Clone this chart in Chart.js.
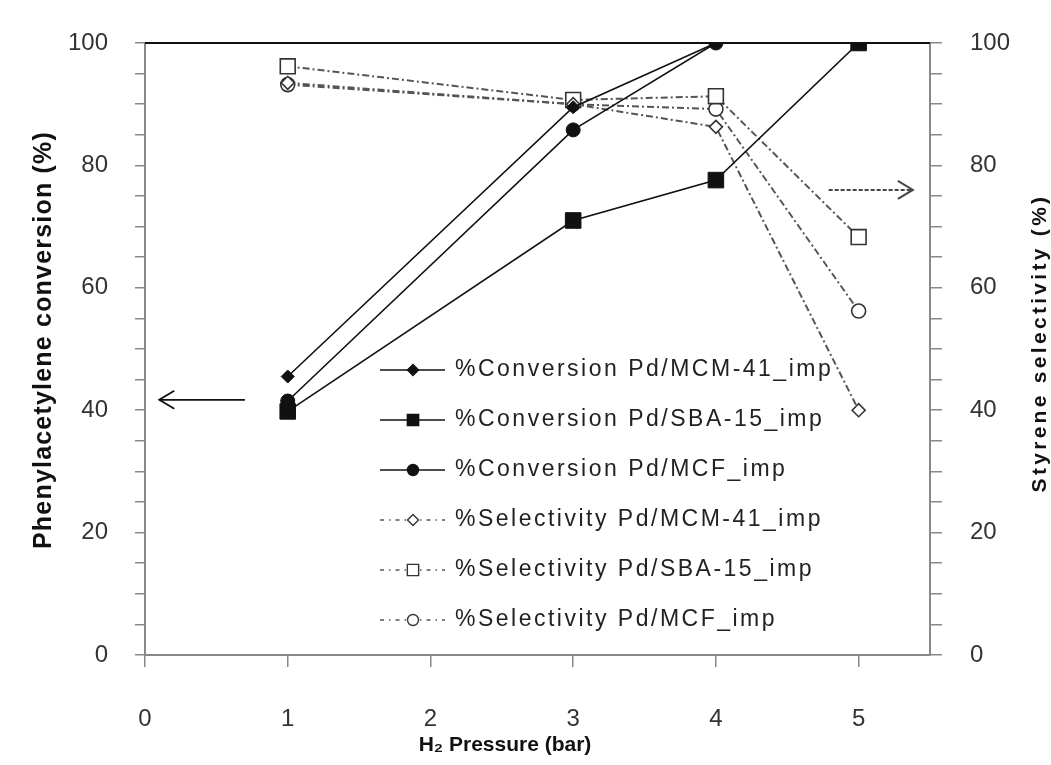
<!DOCTYPE html>
<html>
<head>
<meta charset="utf-8">
<script src="https://cdn.jsdelivr.net/npm/chart.js@4/dist/chart.umd.min.js"></script>
<style>
  body { margin: 0; background: #fff; }
  #wrap { width: 1051px; height: 765px; }
</style>
</head>
<body>
<div id="wrap"><canvas id="chart"></canvas></div>
<script>
// H2 pressure (bar)
const pressure = [1, 3, 4, 5];
// phenylacetylene conversion (%)
const convMCM41 = [45.5, 89.5, 100, 100];
const convSBA15 = [39.8, 71, 77.6, 100];
const convMCF = [41.5, 85.8, 100, 100];
// styrene selectivity (%)
const selMCM41 = [93.5, 90, 86.3, 40];
const selSBA15 = [96.2, 90.7, 91.3, 68.3];
const selMCF = [93.2, 90, 89.2, 56.2];

const xTicks = [0, 1, 2, 3, 4, 5];
const yLabelTicks = [0, 20, 40, 60, 80, 100];

function pts(vals) {
    return pressure.map(function (p, i) { return { x: p, y: vals[i] }; });
}

const solid = { borderColor: '#111', borderWidth: 1.6, backgroundColor: '#111', pointBorderColor: '#111', pointBorderWidth: 1, yAxisID: 'y', order: 0 };
const dashed = { borderColor: '#555', borderWidth: 2, borderDash: [7, 3, 2, 3], backgroundColor: '#fff', pointBackgroundColor: '#fff', pointBorderColor: '#333', pointBorderWidth: 1.6, yAxisID: 'y1', order: 1 };

const datasets = [
    Object.assign({ label: '%Conversion Pd/MCM-41_imp', data: pts(convMCM41), pointStyle: 'rectRot', pointRadius: 6.5 }, solid),
    Object.assign({ label: '%Conversion Pd/SBA-15_imp', data: pts(convSBA15), pointStyle: 'rect', pointRadius: 11 }, solid),
    Object.assign({ label: '%Conversion Pd/MCF_imp', data: pts(convMCF), pointStyle: 'circle', pointRadius: 7 }, solid),
    Object.assign({ label: '%Selectivity Pd/MCM-41_imp', data: pts(selMCM41), pointStyle: 'rectRot', pointRadius: 6.5 }, dashed),
    Object.assign({ label: '%Selectivity Pd/SBA-15_imp', data: pts(selSBA15), pointStyle: 'rect', pointRadius: 10.5 }, dashed),
    Object.assign({ label: '%Selectivity Pd/MCF_imp', data: pts(selMCF), pointStyle: 'circle', pointRadius: 7 }, dashed)
];

function arrow(ctx, x1, y1, x2, y2, dir) {
    ctx.beginPath();
    ctx.moveTo(x1, y1);
    ctx.lineTo(x2, y2);
    ctx.stroke();
    ctx.setLineDash([]);
    ctx.beginPath();
    ctx.moveTo(x2 - dir * 15, y2 - 9);
    ctx.lineTo(x2, y2);
    ctx.lineTo(x2 - dir * 15, y2 + 9);
    ctx.stroke();
}

const extras = {
    id: 'extras',
    afterDraw: function (chart) {
        const ctx = chart.ctx;
        const a = chart.chartArea;
        const xs = chart.scales.x, ys = chart.scales.y;
        ctx.save();
        // top frame line
        ctx.strokeStyle = '#111';
        ctx.lineWidth = 2;
        ctx.beginPath();
        ctx.moveTo(a.left, a.top);
        ctx.lineTo(a.right, a.top);
        ctx.stroke();

        // arrows
        ctx.lineWidth = 1.8;
        ctx.strokeStyle = '#111';
        arrow(ctx, xs.getPixelForValue(0.7), ys.getPixelForValue(41.7), xs.getPixelForValue(0.1), ys.getPixelForValue(41.7), -1);
        ctx.strokeStyle = '#444';
        ctx.lineWidth = 2;
        ctx.setLineDash([4, 2]);
        arrow(ctx, xs.getPixelForValue(4.79), ys.getPixelForValue(76), xs.getPixelForValue(5.38), ys.getPixelForValue(76), 1);

        // legend
        const lx = a.left + 235, ly = a.top + 327, rowH = 50;
        ctx.textBaseline = 'middle';
        ctx.textAlign = 'left';
        chart.data.datasets.forEach(function (d, i) {
            const y = ly + i * rowH;
            ctx.save();
            ctx.strokeStyle = d.borderColor;
            ctx.lineWidth = 1.6;
            ctx.setLineDash(d.borderDash ? [4, 5, 1.5, 5] : []);
            ctx.beginPath();
            ctx.moveTo(lx, y);
            ctx.lineTo(lx + 65, y);
            ctx.stroke();
            ctx.setLineDash([]);
            ctx.fillStyle = d.borderDash ? '#fff' : '#111';
            ctx.strokeStyle = d.borderDash ? '#333' : '#111';
            ctx.lineWidth = 1.4;
            Chart.helpers.drawPoint(ctx, { pointStyle: d.pointStyle, radius: d.pointStyle === 'rect' ? 8 : 5.5, rotation: 0, borderWidth: 1.4 }, lx + 33, y);
            ctx.restore();
            ctx.save();
            ctx.font = '23px "Liberation Sans", Arial, sans-serif';
            ctx.letterSpacing = '2.5px';
            ctx.fillStyle = '#222';
            ctx.fillText(d.label, lx + 75, y);
            ctx.restore();
        });

        // axis titles
        ctx.fillStyle = '#111';
        ctx.textAlign = 'center';
        ctx.save();
        ctx.translate(44, 340);
        ctx.rotate(-Math.PI / 2);
        ctx.font = 'bold 25px "Liberation Sans", Arial, sans-serif';
        ctx.letterSpacing = '1.2px';
        ctx.fillText('Phenylacetylene conversion (%)', 0, 0);
        ctx.restore();
        ctx.save();
        ctx.translate(1040, 343);
        ctx.rotate(-Math.PI / 2);
        ctx.font = 'bold 21px "Liberation Sans", Arial, sans-serif';
        ctx.letterSpacing = '3.3px';
        ctx.fillText('Styrene selectivity (%)', 0, 0);
        ctx.restore();
        ctx.font = 'bold 21px "Liberation Sans Narrow", "Liberation Sans", Arial, sans-serif';
        ctx.fillText('H\u2082 Pressure (bar)', 505, 745);
        ctx.restore();
    }
};

const tickFont = { family: '"Liberation Sans", Arial, sans-serif', size: 24 };
function yLabel(v) { return yLabelTicks.indexOf(v) >= 0 ? String(v) : ''; }

new Chart(document.getElementById('chart'), {
    type: 'line',
    data: { datasets: datasets },
    options: {
        responsive: true,
        maintainAspectRatio: false,
        animation: false,
        layout: { padding: { top: 43, left: 0, right: 0, bottom: 0 } },
        plugins: { legend: { display: false }, tooltip: { enabled: false } },
        scales: {
            x: {
                type: 'linear',
                min: 0,
                max: 5.5,
                afterFit: function (s) { s.height = 110; },
                afterBuildTicks: function (s) { s.ticks = xTicks.map(function (v) { return { value: v }; }); },
                ticks: { stepSize: 1, includeBounds: false, color: '#333', font: tickFont, padding: 38, maxRotation: 0 },
                grid: { drawOnChartArea: false, drawTicks: true, tickLength: 12, color: '#888', lineWidth: 1.5 },
                border: { color: '#888', width: 2 }
            },
            y: {
                position: 'left',
                min: 0,
                max: 100,
                afterFit: function (s) { s.width = 145; },
                ticks: { stepSize: 5, autoSkip: false, callback: yLabel, color: '#333', font: tickFont, padding: 27 },
                grid: { drawOnChartArea: false, drawTicks: true, tickLength: 10, color: '#888', lineWidth: 1.5 },
                border: { color: '#888', width: 2 }
            },
            y1: {
                position: 'right',
                min: 0,
                max: 100,
                afterFit: function (s) { s.width = 121; },
                ticks: { stepSize: 5, autoSkip: false, callback: yLabel, color: '#333', font: tickFont, padding: 28 },
                grid: { drawOnChartArea: false, drawTicks: true, tickLength: 12, color: '#888', lineWidth: 1.5 },
                border: { color: '#888', width: 2 }
            }
        }
    },
    plugins: [extras]
});
</script>
</body>
</html>
